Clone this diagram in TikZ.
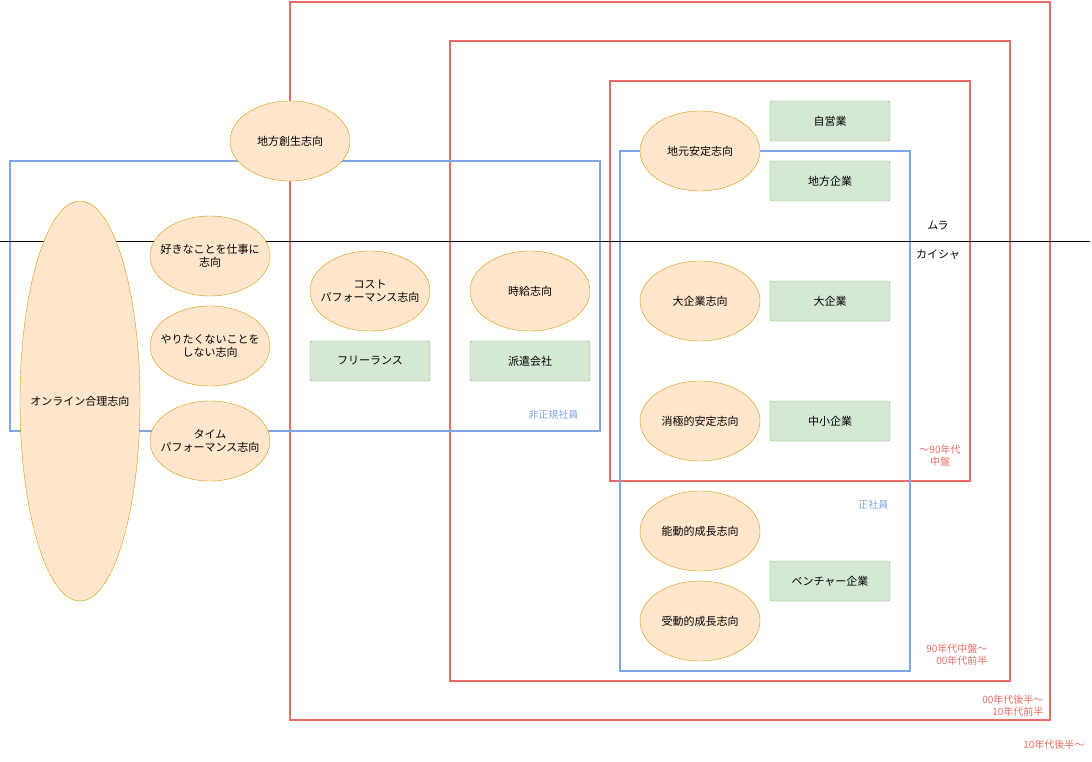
\documentclass[tikz,border=0pt]{standalone}
\usepackage{fontspec}
\setmainfont{Noto Sans CJK JP}
\usetikzlibrary{shapes.geometric}
\definecolor{rd}{HTML}{EA6B66}
\definecolor{bl}{HTML}{7EA6E0}
\definecolor{ofill}{HTML}{FFE6CC}
\definecolor{ostr}{HTML}{D79B00}
\definecolor{gfill}{HTML}{D5E8D4}
\definecolor{gstr}{HTML}{82B366}
\begin{document}
\begin{tikzpicture}[x=1pt,y=-1pt,
  font=\fontsize{11}{13}\selectfont,
  redbox/.style={draw=rd,line width=2pt},
  bluebox/.style={draw=bl,line width=2pt},
  ell/.style={ellipse,draw=ostr,fill=ofill,minimum width=120pt,minimum height=80pt,inner sep=0pt,label={[align=center]center:#1}},
  grn/.style={rectangle,rounded corners=2pt,draw=gstr,fill=gfill,minimum width=120pt,minimum height=40pt,inner sep=0pt},
  rl/.style={text=rd,align=right,font=\fontsize{10}{12}\selectfont},
  bll/.style={text=bl,font=\fontsize{10}{12}\selectfont}]
\useasboundingbox (0,0) rectangle (1092,762);
\draw[redbox] (290,2) rectangle (1050,720);
\draw[redbox] (450,41) rectangle (1010,681);
\draw[redbox] (610,81) rectangle (970,481);
\draw[bluebox] (10,161) rectangle (600,431);
\draw[bluebox] (620,151) rectangle (910,671);
\coordinate (l1) at (0,241); \coordinate (l2) at (1090,241);
\draw (l1) -- (l2);
\node (mura) at (938,226) {ムラ};
\node (kaisha) at (938,255) {カイシャ};
\node[rl,anchor=east] (r1) at (1088,745) {10年代後半〜};
\node[rl,anchor=east] (r2) at (1047,706) {00年代後半〜\\10年代前半};
\node[rl,anchor=east] (r3) at (991,655) {90年代中盤〜\\00年代前半};
\node[rl,align=center] (r4) at (940,456) {〜90年代\\中盤};
\node[bll,anchor=east] (b1) at (582,415) {非正規社員};
\node[bll,anchor=east] (b2) at (892,505) {正社員};
\node[ell={地方創生志向}] (e1) at (290,141) {};
\node[ell={オンライン合理志向},minimum height=400pt] (e2) at (80,401) {};
\node[ell={好きなことを仕事に\\志向}] (e3) at (210,256) {};
\node[ell={やりたくないことを\\しない志向}] (e4) at (210,346) {};
\node[ell={タイム\\パフォーマンス志向}] (e5) at (210,441) {};
\node[ell={コスト\\パフォーマンス志向}] (e6) at (370,291) {};
\node[ell={時給志向}] (e7) at (530,291) {};
\node[ell={地元安定志向}] (e8) at (700,151) {};
\node[ell={大企業志向}] (e9) at (700,301) {};
\node[ell={消極的安定志向}] (e10) at (700,421) {};
\node[ell={能動的成長志向}] (e11) at (700,531) {};
\node[ell={受動的成長志向}] (e12) at (700,621) {};
\node[grn] (g1) at (830,121) {自営業};
\node[grn] (g2) at (830,181) {地方企業};
\node[grn] (g3) at (830,301) {大企業};
\node[grn] (g4) at (830,421) {中小企業};
\node[grn] (g5) at (830,581) {ベンチャー企業};
\node[grn] (g6) at (370,361) {フリーランス};
\node[grn] (g7) at (530,361) {派遣会社};
\end{tikzpicture}
\end{document}
